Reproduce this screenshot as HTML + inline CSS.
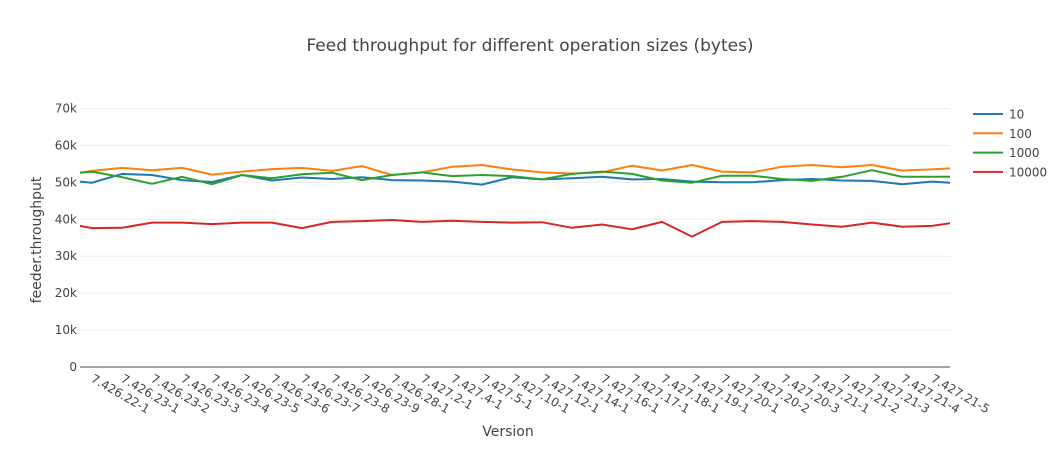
<!DOCTYPE html>
<html><head><meta charset="utf-8"><style>
body{margin:0;background:#fff;}
svg{display:block;font-family:"DejaVu Sans","Liberation Sans",sans-serif;}
</style></head><body>
<svg id="chart" width="1064" height="450" xmlns="http://www.w3.org/2000/svg">
<defs><clipPath id="plotclip"><rect x="80" y="100" width="870" height="270"/></clipPath></defs>
<text x="530" y="51" text-anchor="middle" font-size="17" fill="#444">Feed throughput for different operation sizes (bytes)</text>
<g id="grid"></g>
<g id="yticks"></g>
<g id="xticks"></g>
<g id="series" clip-path="url(#plotclip)"></g>
<text transform="translate(41,240) rotate(-90)" text-anchor="middle" font-size="14" fill="#444">feeder.throughput</text>
<text x="508" y="436" text-anchor="middle" font-size="14" fill="#444">Version</text>
<g id="legend"></g>
</svg>
<script>
const categories = ["", "7.426.22-1","7.426.23-1","7.426.23-2","7.426.23-3","7.426.23-4","7.426.23-5","7.426.23-6","7.426.23-7","7.426.23-8","7.426.23-9","7.426.28-1","7.427.2-1","7.427.4-1","7.427.5-1","7.427.10-1","7.427.12-1","7.427.14-1","7.427.16-1","7.427.17-1","7.427.18-1","7.427.19-1","7.427.20-1","7.427.20-2","7.427.20-3","7.427.21-1","7.427.21-2","7.427.21-3","7.427.21-4","7.427.21-5",""];
const seriesNames = ["10","100","1000","10000"];
const seriesColors = ["#1f77b4","#ff7f0e","#2ca02c","#d62728"];
const values10 = [50.65,49.9,52.3,52.0,50.6,50.1,52.0,50.5,51.3,50.9,51.4,50.6,50.5,50.2,49.4,51.4,50.8,51.1,51.5,50.8,50.9,50.2,50.0,50.0,50.6,50.9,50.5,50.4,49.5,50.2,49.7];
const values100 = [51.85,53.1,53.9,53.3,53.9,52.1,52.9,53.6,53.9,53.1,54.4,52.0,52.7,54.2,54.7,53.5,52.7,52.4,52.7,54.5,53.2,54.7,52.9,52.7,54.2,54.7,54.1,54.7,53.2,53.5,54.0];
const values1000 = [52.15,52.9,51.4,49.6,51.5,49.5,52.0,51.1,52.2,52.6,50.6,52.0,52.7,51.7,52.0,51.7,50.8,52.3,52.9,52.3,50.5,49.9,51.8,51.8,50.9,50.4,51.5,53.3,51.5,51.5,51.5];
const values10000 = [39.1,37.6,37.7,39.1,39.1,38.7,39.1,39.1,37.6,39.3,39.5,39.8,39.3,39.6,39.3,39.1,39.2,37.7,38.6,37.3,39.3,35.3,39.3,39.5,39.3,38.6,38.0,39.1,38.0,38.2,39.4];
const yTickValues = [0,10,20,30,40,50,60,70];
const yTickLabels = ["0","10k","20k","30k","40k","50k","60k","70k"];

const NS="http://www.w3.org/2000/svg";
function xScale(i){ return 92 + (i-1)*30; }
function yScale(v){ return 367 - v*3.693; }
function mk(tag, attrs, parent){ const e=document.createElementNS(NS,tag); for(const k in attrs) e.setAttribute(k,attrs[k]); parent.appendChild(e); return e; }

const grid=document.getElementById('grid'), yt=document.getElementById('yticks'), xt=document.getElementById('xticks');
yTickValues.forEach((v,k)=>{
  const y=yScale(v);
  const ln=mk('line',{x1:80,x2:950,y1:y,y2:y,stroke:v===0?'#444':'#eee','stroke-width':v===0?1:1},grid);
  
  
  const t=mk('text',{x:77,y:y+4,'text-anchor':'end','font-size':12,fill:'#444'},yt);
  t.textContent=yTickLabels[k];
  
  
});
categories.forEach((c,i)=>{
  if(!c) return;
  const x=xScale(i);
  const t=mk('text',{x:0,y:0,transform:`translate(${x-2},${381}) rotate(30)`,'font-size':12,fill:'#444'},xt);
  t.textContent=c;
  
  
});
const allSeries=[values10,values100,values1000,values10000];
const sg=document.getElementById('series');
allSeries.forEach((vals,s)=>{
  const d=vals.map((v,i)=>(i?'L':'M')+xScale(i).toFixed(1)+','+yScale(v).toFixed(1)).join(' ');
  const p=mk('path',{d:d,fill:'none',stroke:seriesColors[s],'stroke-width':2,'stroke-linejoin':'round'},sg);
  
  
});
const lg=document.getElementById('legend');
seriesNames.forEach((n,s)=>{
  const y=114+s*19.3;
  const g=mk('g',{},lg);
  
  
  mk('line',{x1:973,x2:1003,y1:y,y2:y,stroke:seriesColors[s],'stroke-width':2},g);
  const t=mk('text',{x:1009,y:y+4.5,'font-size':12,fill:'#444'},g);
  t.textContent=n;
});
</script>
</body></html>
